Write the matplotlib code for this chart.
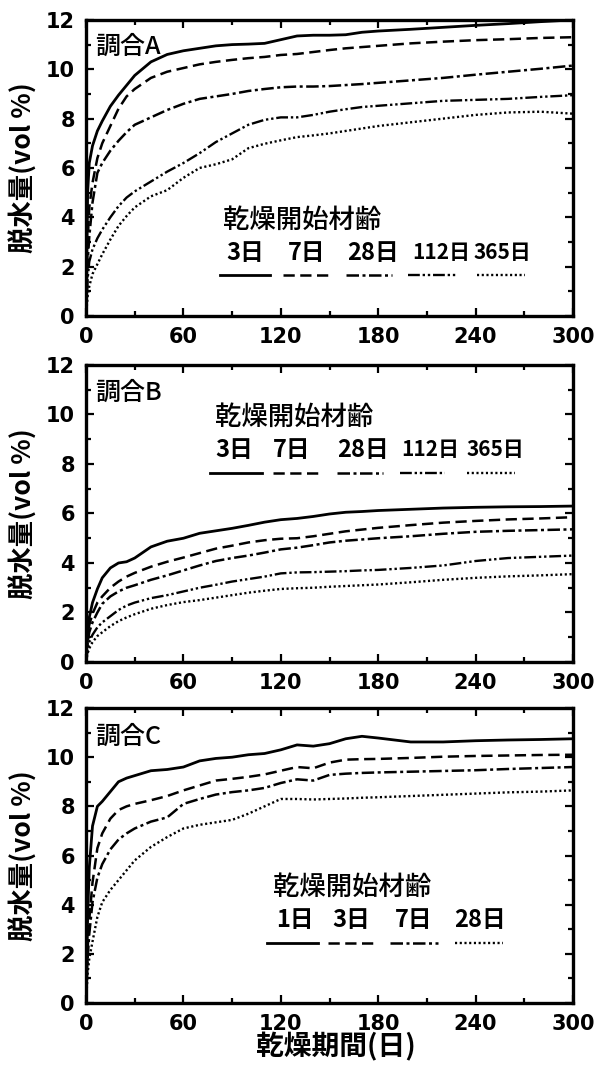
import matplotlib
matplotlib.use("Agg")
import matplotlib.pyplot as plt
from matplotlib.ticker import MultipleLocator

# drying period (days) shared by every curve
days = [0, 1, 2, 4, 7, 10, 15, 20, 25, 30, 40, 50, 60, 70, 80, 90, 100, 110,
        120, 130, 140, 150, 160, 170, 180, 200, 220, 240, 260, 280, 300]

# 調合A: age at start of drying 3, 7, 28, 112, 365 days
a_3 = [0, 5.0, 6.2, 6.9, 7.5, 7.9, 8.5, 8.95, 9.35, 9.75, 10.3, 10.6, 10.75, 10.85, 10.95, 11.0,
       11.02, 11.05, 11.2, 11.35, 11.38, 11.38, 11.4, 11.5, 11.55, 11.62, 11.7, 11.78, 11.85, 11.93, 12.0]
a_7 = [0, 3.0, 4.4, 5.4, 6.4, 7.0, 7.7, 8.4, 8.9, 9.2, 9.65, 9.9, 10.05, 10.2, 10.3, 10.38,
       10.45, 10.5, 10.58, 10.62, 10.7, 10.78, 10.85, 10.9, 10.95, 11.05, 11.12, 11.18, 11.22, 11.27, 11.3]
a_28 = [0, 2.2, 3.2, 4.6, 5.8, 6.2, 6.7, 7.1, 7.45, 7.75, 8.05, 8.35, 8.6, 8.8, 8.9, 9.0,
        9.12, 9.2, 9.27, 9.3, 9.3, 9.32, 9.36, 9.4, 9.45, 9.55, 9.65, 9.78, 9.9, 10.02, 10.15]
a_112 = [0, 1.5, 2.2, 2.7, 3.15, 3.5, 4.0, 4.45, 4.8, 5.05, 5.45, 5.85, 6.2, 6.6, 7.05, 7.4,
         7.75, 7.95, 8.05, 8.05, 8.15, 8.28, 8.38, 8.47, 8.52, 8.62, 8.72, 8.76, 8.8, 8.88, 8.95]
a_365 = [0, 0.8, 1.2, 1.7, 2.1, 2.5, 3.1, 3.65, 4.05, 4.4, 4.85, 5.1, 5.6, 6.0, 6.15, 6.35,
         6.8, 6.98, 7.12, 7.25, 7.32, 7.4, 7.5, 7.6, 7.7, 7.85, 8.0, 8.15, 8.25, 8.28, 8.2]

# 調合B
b_3 = [0, 1.2, 1.8, 2.4, 2.95, 3.4, 3.8, 4.0, 4.05, 4.2, 4.65, 4.88, 5.0, 5.2, 5.3, 5.4,
       5.52, 5.65, 5.75, 5.8, 5.88, 5.98, 6.05, 6.08, 6.12, 6.17, 6.22, 6.25, 6.27, 6.28, 6.3]
b_7 = [0, 1.0, 1.5, 1.95, 2.4, 2.65, 3.0, 3.25, 3.45, 3.6, 3.85, 4.05, 4.22, 4.4, 4.58, 4.7,
       4.83, 4.92, 4.98, 5.0, 5.08, 5.18, 5.28, 5.35, 5.42, 5.53, 5.63, 5.7, 5.76, 5.8, 5.85]
b_28 = [0, 0.8, 1.2, 1.6, 2.0, 2.35, 2.65, 2.85, 3.0, 3.1, 3.32, 3.5, 3.7, 3.9, 4.08, 4.2,
        4.3, 4.42, 4.55, 4.62, 4.72, 4.83, 4.9, 4.95, 5.0, 5.08, 5.18, 5.26, 5.3, 5.33, 5.36]
b_112 = [0, 0.5, 0.8, 1.1, 1.4, 1.6, 1.85, 2.1, 2.28, 2.4, 2.58, 2.7, 2.85, 3.0, 3.12, 3.25,
         3.35, 3.45, 3.58, 3.62, 3.63, 3.65, 3.67, 3.7, 3.72, 3.8, 3.9, 4.08, 4.2, 4.25, 4.3]
b_365 = [0, 0.35, 0.55, 0.8, 1.05, 1.2, 1.45, 1.65, 1.8, 1.93, 2.15, 2.3, 2.42, 2.5, 2.6, 2.7,
         2.8, 2.88, 2.95, 2.98, 3.0, 3.04, 3.07, 3.1, 3.13, 3.22, 3.32, 3.4, 3.46, 3.5, 3.55]

# 調合C: age at start of drying 1, 3, 7, 28 days
c_1 = [0, 3.5, 5.5, 7.2, 8.0, 8.2, 8.6, 9.0, 9.15, 9.25, 9.45, 9.5, 9.6, 9.85, 9.95, 10.0,
       10.1, 10.15, 10.3, 10.5, 10.45, 10.55, 10.75, 10.85, 10.78, 10.62, 10.62, 10.67, 10.7, 10.72, 10.75]
c_3 = [0, 2.2, 3.4, 4.9, 6.3, 6.9, 7.5, 7.85, 8.0, 8.1, 8.25, 8.42, 8.65, 8.85, 9.05, 9.12,
       9.2, 9.3, 9.45, 9.6, 9.55, 9.78, 9.9, 9.92, 9.93, 9.97, 10.02, 10.05, 10.07, 10.09, 10.1]
c_7 = [0, 1.8, 2.8, 4.1, 5.1, 5.65, 6.25, 6.65, 6.9, 7.1, 7.38, 7.55, 8.1, 8.3, 8.48, 8.58,
       8.65, 8.75, 8.95, 9.1, 9.05, 9.28, 9.33, 9.36, 9.38, 9.41, 9.44, 9.47, 9.52, 9.56, 9.6]
c_28 = [0, 1.2, 1.8, 2.5, 3.5, 4.1, 4.6, 5.0, 5.4, 5.8, 6.35, 6.75, 7.1, 7.25, 7.35, 7.45,
        7.7, 8.0, 8.3, 8.3, 8.28, 8.3, 8.32, 8.35, 8.37, 8.42, 8.47, 8.52, 8.57, 8.6, 8.65]

labels_ab = ["3日", "7日", "28日", "112日", "365日"]
labels_c = ["1日", "3日", "7日", "28日"]

# line patterns: solid, dashed, dash-dot, dash-dot-dot, dotted
styles = {
    "solid": (None, 2.0),
    "dash": ((4.5, 2.2), 1.8),
    "dashdot": ((5, 1.4, 1.2, 1.4), 1.8),
    "dashdotdot": ((5, 1.2, 1, 1.2, 1, 1.2), 1.7),
    "dot": ((0.9, 1.1), 1.7),
}

CJK = ["Noto Sans CJK JP", "DejaVu Sans"]
tick_font = {"family": "DejaVu Sans", "weight": "bold", "size": 15}


def draw(ax, x, y, style, **kw):
    dashes, lw = styles[style]
    line, = ax.plot(x, y, color="black", lw=lw, **kw)
    if dashes is not None:
        line.set_dashes(dashes)
    return line


def setup(ax):
    ax.set_xlim(0, 300)
    ax.set_ylim(0, 12)
    ax.xaxis.set_major_locator(MultipleLocator(60))
    ax.xaxis.set_minor_locator(MultipleLocator(30))
    ax.yaxis.set_major_locator(MultipleLocator(2))
    ax.yaxis.set_minor_locator(MultipleLocator(1))
    ax.tick_params(which="both", direction="in", top=True, right=True, width=1.6)
    ax.tick_params(which="major", length=6, pad=8)
    ax.tick_params(which="minor", length=3.5)
    for lab in ax.get_xticklabels() + ax.get_yticklabels():
        lab.set_fontproperties(matplotlib.font_manager.FontProperties(**tick_font))
    for s in ax.spines.values():
        s.set_linewidth(2.4)
    ax.set_ylabel("脱水量(vol %)", family=CJK, weight="bold", fontsize=19)
    ax.yaxis.set_label_coords(-0.10, 0.5)


def legend(ax, title_xy, labels, label_x, label_y, segs, seg_y, stys):
    ax.text(title_xy[0], title_xy[1], "乾燥開始材齢", transform=ax.transAxes,
            family=CJK, fontsize=19, weight="medium", ha="left", va="center")
    for lab, lx in zip(labels, label_x):
        # three-digit ages are set tighter so they fit their column
        size = 15 if len(lab) > 3 else 17
        ax.text(lx, label_y, lab, transform=ax.transAxes, family=CJK,
                weight="bold", fontsize=size, ha="center", va="center")
    for (x0, x1), st in zip(segs, stys):
        draw(ax, [x0, x1], [seg_y, seg_y], st, transform=ax.transAxes)


fig = plt.figure(figsize=(5.99, 10.66), dpi=100)
left, width = 0.1436, 0.813
axA = fig.add_axes([left, 0.7036, width, 0.2777])
axB = fig.add_axes([left, 0.379, width, 0.2786])
axC = fig.add_axes([left, 0.0591, width, 0.2767])

five = ["solid", "dash", "dashdot", "dashdotdot", "dot"]
four = ["solid", "dash", "dashdot", "dot"]

for ys, st in zip([a_3, a_7, a_28, a_112, a_365], five):
    draw(axA, days, ys, st)
for ys, st in zip([b_3, b_7, b_28, b_112, b_365], five):
    draw(axB, days, ys, st)
for ys, st in zip([c_1, c_3, c_7, c_28], four):
    draw(axC, days, ys, st)

for ax in (axA, axB, axC):
    setup(ax)

for ax, name, ty in ((axA, "調合A", 0.909), (axB, "調合B", 0.906), (axC, "調合C", 0.902)):
    ax.text(0.018, ty, name, transform=ax.transAxes, family=CJK, fontsize=18,
            weight="medium", va="center")

legend(axA, (0.281, 0.324), labels_ab, [0.326, 0.453, 0.59, 0.73, 0.855], 0.213,
       [(0.275, 0.378), (0.405, 0.501), (0.534, 0.628), (0.661, 0.764), (0.803, 0.901)], 0.139, five)
legend(axB, (0.265, 0.822), labels_ab, [0.304, 0.423, 0.569, 0.707, 0.84], 0.714,
       [(0.255, 0.361), (0.384, 0.476), (0.515, 0.61), (0.645, 0.737), (0.782, 0.881)], 0.636, five)
legend(axC, (0.384, 0.393), labels_c, [0.429, 0.545, 0.672, 0.809], 0.281,
       [(0.372, 0.476), (0.497, 0.6), (0.624, 0.723), (0.758, 0.856)], 0.203, four)

axC.set_xlabel("乾燥期間(日)", family=CJK, weight="bold", fontsize=20)
axC.xaxis.set_label_coords(0.513, -0.1)

fig.savefig("out.png", dpi=100)
